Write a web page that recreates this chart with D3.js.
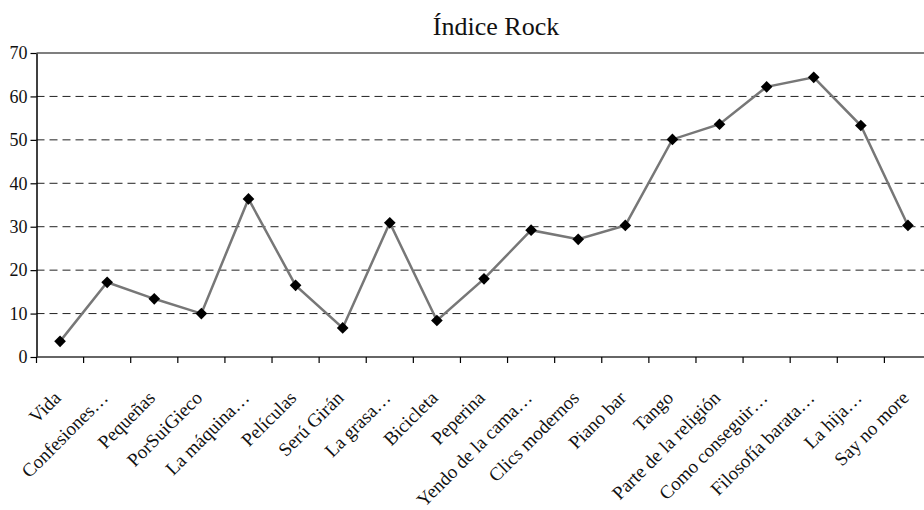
<!DOCTYPE html>
<html><head><meta charset="utf-8">
<script src="https://cdn.jsdelivr.net/npm/d3@7"></script>
<style>
html,body{margin:0;padding:0;background:#fff;}
svg{display:block;font-family:"Liberation Serif","DejaVu Serif",serif;}
</style></head>
<body>
<svg id="chart" width="924" height="510"></svg>
<script>
const categories = ["Vida","Confesiones…","Pequeñas","PorSuiGieco","La máquina…","Películas","Serú Girán","La grasa…","Bicicleta","Peperina","Yendo de la cama…","Clics modernos","Piano bar","Tango","Parte de la religión","Como conseguir…","Filosofía barata…","La hija…","Say no more"];
const values = [3.6,17.2,13.4,10.0,36.4,16.5,6.7,30.9,8.4,18.0,29.2,27.1,30.3,50.1,53.6,62.2,64.4,53.3,30.3];
const yTicks = [0,10,20,30,40,50,60,70];
const title = "Índice Rock";

const svg = d3.select("#chart");
const m = {left:36.5, right:931.5, top:53, bottom:357};

const x = d3.scaleBand().domain(categories).range([m.left, m.right]);
const y = d3.scaleLinear().domain([0,70]).range([m.bottom, m.top]);

// gridlines
svg.append("g").selectAll("line").data(yTicks.filter(d=>d>0 && d<70)).join("line")
  .attr("x1", m.left).attr("x2", m.right)
  .attr("y1", d=>y(d)).attr("y2", d=>y(d))
  .attr("stroke","#222").attr("stroke-width",1).attr("stroke-dasharray","8,5");

// top border
svg.append("line").attr("x1",m.left).attr("x2",m.right).attr("y1",y(70)).attr("y2",y(70))
  .attr("stroke","#000").attr("stroke-width",1.2);

// y axis
const yAxis = svg.append("g").attr("transform",`translate(${m.left},0)`)
  .call(d3.axisLeft(y).tickValues(yTicks).tickSize(6).tickSizeOuter(0).tickPadding(3));
yAxis.select(".domain").attr("stroke","#000").attr("stroke-width",1.5);
yAxis.selectAll(".tick line").attr("stroke","#000").attr("stroke-width",1.2);
yAxis.selectAll("text").attr("font-size","18px").attr("fill","#111")
  .attr("font-family","'Liberation Serif',serif");

// x axis
const xTickPos = categories.map(c=>x(c)).concat([m.right]);
const xAxisG = svg.append("g");
xAxisG.append("line").attr("x1",m.left).attr("x2",m.right).attr("y1",m.bottom).attr("y2",m.bottom)
  .attr("stroke","#333").attr("stroke-width",1.5);
xAxisG.selectAll("line.tk").data(xTickPos).join("line").attr("class","tk")
  .attr("x1",d=>d).attr("x2",d=>d).attr("y1",m.bottom).attr("y2",m.bottom+6)
  .attr("stroke","#000").attr("stroke-width",1.2);
xAxisG.selectAll("text").data(categories).join("text")
  .attr("transform", d=>`translate(${x(d)+x.bandwidth()/2+2},${m.bottom+42}) rotate(-45)`)
  .attr("text-anchor","end")
  .attr("font-size","19px").attr("fill","#111")
  .text(d=>d);

// line
const cx = d=>x(d)+x.bandwidth()/2;
svg.append("path").datum(categories.map((c,i)=>[cx(c), y(values[i])]))
  .attr("d", d3.line()).attr("fill","none").attr("stroke","#777").attr("stroke-width",2.5);

// markers
svg.append("g").selectAll("path").data(categories).join("path")
  .attr("d", d3.symbol().type(d3.symbolSquare).size(68))
  .attr("transform",(c,i)=>`translate(${cx(c)},${y(values[i])}) rotate(45)`)
  .attr("fill","#000");

// title
svg.append("text").attr("x",496).attr("y",35).attr("text-anchor","middle")
  .attr("font-size","26px").attr("fill","#111").text(title);
</script>
</body></html>
